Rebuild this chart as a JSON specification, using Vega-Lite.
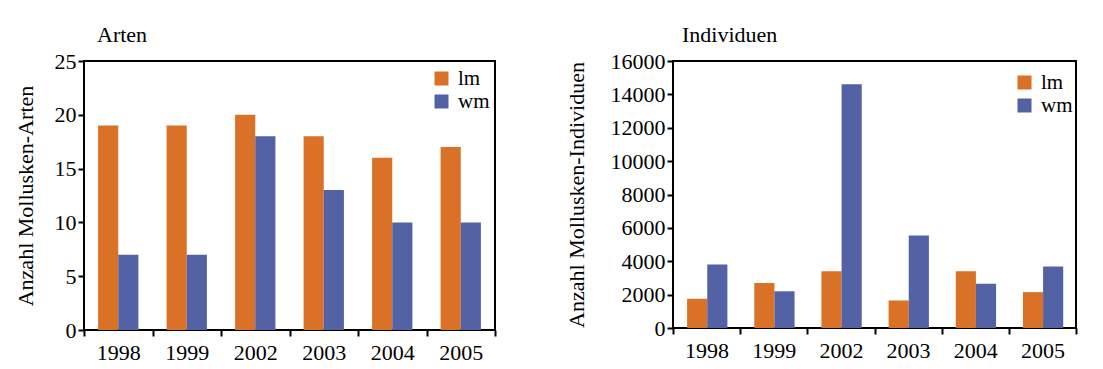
{
  "$schema": "https://vega.github.io/schema/vega-lite/v6.json",
  "padding": {"left": 13, "top": 23, "right": 5, "bottom": 0},
  "datasets": {
    "arten": [
      {"Jahr": "1998", "Gruppe": "lm", "Anzahl": 19},
      {"Jahr": "1998", "Gruppe": "wm", "Anzahl": 7},
      {"Jahr": "1999", "Gruppe": "lm", "Anzahl": 19},
      {"Jahr": "1999", "Gruppe": "wm", "Anzahl": 7},
      {"Jahr": "2002", "Gruppe": "lm", "Anzahl": 20},
      {"Jahr": "2002", "Gruppe": "wm", "Anzahl": 18},
      {"Jahr": "2003", "Gruppe": "lm", "Anzahl": 18},
      {"Jahr": "2003", "Gruppe": "wm", "Anzahl": 13},
      {"Jahr": "2004", "Gruppe": "lm", "Anzahl": 16},
      {"Jahr": "2004", "Gruppe": "wm", "Anzahl": 10},
      {"Jahr": "2005", "Gruppe": "lm", "Anzahl": 17},
      {"Jahr": "2005", "Gruppe": "wm", "Anzahl": 10}
    ],
    "indiv": [
      {"Jahr": "1998", "Gruppe": "lm", "Anzahl": 1750},
      {"Jahr": "1998", "Gruppe": "wm", "Anzahl": 3800},
      {"Jahr": "1999", "Gruppe": "lm", "Anzahl": 2700},
      {"Jahr": "1999", "Gruppe": "wm", "Anzahl": 2200},
      {"Jahr": "2002", "Gruppe": "lm", "Anzahl": 3400},
      {"Jahr": "2002", "Gruppe": "wm", "Anzahl": 14600},
      {"Jahr": "2003", "Gruppe": "lm", "Anzahl": 1650},
      {"Jahr": "2003", "Gruppe": "wm", "Anzahl": 5550},
      {"Jahr": "2004", "Gruppe": "lm", "Anzahl": 3400},
      {"Jahr": "2004", "Gruppe": "wm", "Anzahl": 2650},
      {"Jahr": "2005", "Gruppe": "lm", "Anzahl": 2150},
      {"Jahr": "2005", "Gruppe": "wm", "Anzahl": 3680}
    ]
  },
  "config": {
    "font": "Liberation Serif",
    "view": {"stroke": "black", "strokeWidth": 2},
    "axis": {
      "domain": false,
      "grid": false,
      "tickColor": "black",
      "tickWidth": 2,
      "tickSize": 6,
      "labelFont": "Liberation Serif",
      "labelFontSize": 22,
      "labelColor": "black",
      "titleFont": "Liberation Serif",
      "titleFontSize": 22,
      "titleFontWeight": "normal",
      "titleColor": "black"
    },
    "legend": {
      "title": null,
      "orient": "none",
      "symbolType": "square",
      "symbolSize": 196,
      "symbolStrokeWidth": 0,
      "symbolOpacity": 1,
      "labelFont": "Liberation Serif",
      "labelFontSize": 21,
      "labelColor": "black",
      "labelOffset": 6,
      "rowPadding": 1,
      "padding": 0
    },
    "title": {
      "font": "Liberation Serif",
      "fontSize": 22,
      "fontWeight": "normal",
      "color": "black",
      "anchor": "start",
      "frame": "group"
    }
  },
  "spacing": 66,
  "resolve": {"scale": {"color": "independent"}, "legend": {"color": "independent"}},
  "hconcat": [
    {
      "width": 411,
      "height": 269,
      "title": {"text": "Arten", "dx": 13, "offset": 3},
      "data": {"name": "arten"},
      "mark": {"type": "bar"},
      "encoding": {
        "x": {"field": "Jahr", "type": "nominal", "scale": {"paddingInner": 0, "paddingOuter": 0},
              "axis": {"title": null, "labelAngle": 0, "tickBand": "extent", "labelPadding": 6}},
        "xOffset": {"field": "Gruppe", "type": "nominal", "sort": ["lm", "wm"], "scale": {"paddingInner": 0, "paddingOuter": 0.7}},
        "y": {"field": "Anzahl", "type": "quantitative", "scale": {"domain": [0, 25], "nice": false},
              "axis": {"title": "Anzahl Mollusken-Arten", "values": [0, 5, 10, 15, 20, 25], "format": "d", "titlePadding": 17}},
        "color": {"field": "Gruppe", "type": "nominal", "scale": {"domain": ["lm", "wm"], "range": ["#D97127", "#5361A5"]},
                  "legend": {"legendX": 347, "legendY": 7}}
      }
    },
    {
      "width": 403,
      "height": 267,
      "title": {"text": "Individuen", "dx": 9, "offset": 3},
      "data": {"name": "indiv"},
      "mark": {"type": "bar"},
      "encoding": {
        "x": {"field": "Jahr", "type": "nominal", "scale": {"paddingInner": 0, "paddingOuter": 0},
              "axis": {"title": null, "labelAngle": 0, "tickBand": "extent", "labelPadding": 6}},
        "xOffset": {"field": "Gruppe", "type": "nominal", "sort": ["lm", "wm"], "scale": {"paddingInner": 0, "paddingOuter": 0.68}},
        "y": {"field": "Anzahl", "type": "quantitative", "scale": {"domain": [0, 16000], "nice": false},
              "axis": {"title": "Anzahl Mollusken-Individuen", "values": [0, 2000, 4000, 6000, 8000, 10000, 12000, 14000, 16000], "format": "d", "titlePadding": 22}},
        "color": {"field": "Gruppe", "type": "nominal", "scale": {"domain": ["lm", "wm"], "range": ["#D97127", "#5361A5"]},
                  "legend": {"legendX": 341, "legendY": 11}}
      }
    }
  ]
}
